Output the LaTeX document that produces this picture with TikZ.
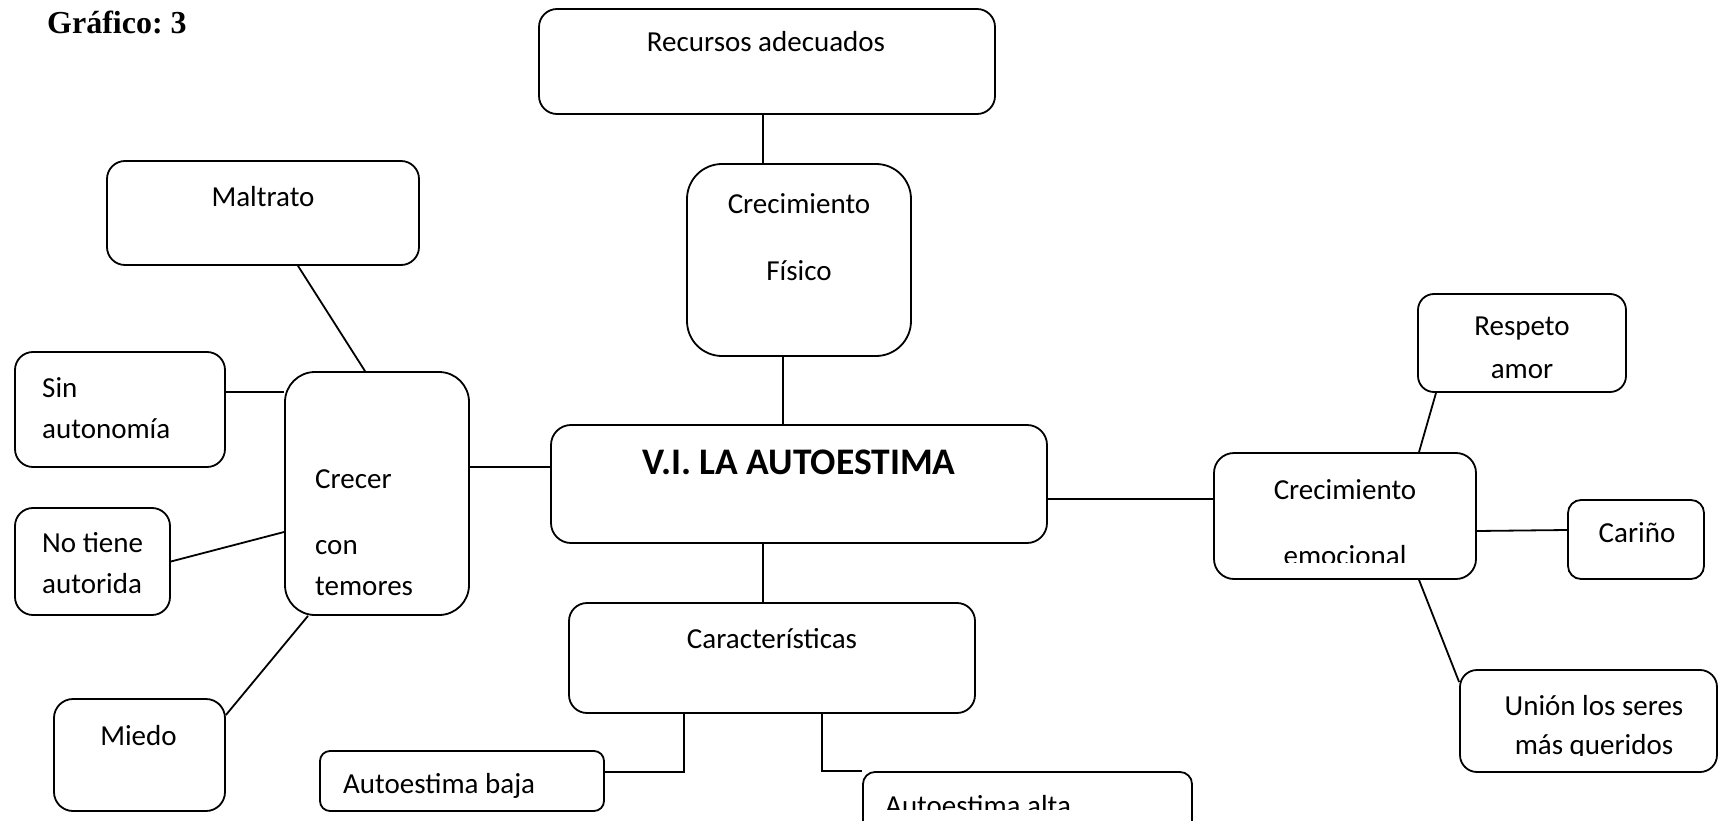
\documentclass[tikz,border=0pt]{standalone}
\usepackage{fontspec}
\setmainfont{Carlito}
\newfontfamily\titlefont{Liberation Serif}
\frenchspacing
\tikzstyle{box} = [draw, rectangle, line width=1.8pt, inner sep=0pt]
\tikzstyle{txt} = [inner sep=0pt, anchor=base, font=\fontsize{29}{41}\selectfont]
\tikzstyle{link} = [line width=1.8pt]

\begin{document}
\begin{tikzpicture}[x=1pt, y=-1pt]
    \clip (0,0) rectangle (1719,821);

    % Boxes.
    \foreach \name/\x/\y/\w/\h/\r in {recursos/767/61.5/456/105/18, fisico/799/260/224/192/35,
        autoestima/799/484/496/118/20, maltrato/263/213/312/104/18, crecer/377/493.5/184/243/30,
        sin autonomia/120/409.5/210/115/18, no tiene/92.5/561.5/155/107/18, miedo/139.5/755/171/112/19,
        caracteristicas/772/658/406/110/18, baja/462/781/284/60/10, alta/1027.5/806/329/68/12,
        emocional/1345/516/262/126/20, respeto/1522/343/208/98/16, carino/1636/539.5/136/79/13,
        union/1588.5/721/257/102/17} {%
        \node (\name) [box, rounded corners=\r pt, minimum width=\w pt, minimum height=\h pt] at (\x,\y) {};
    }

    % Texts (multi-line ones sit on their last line).
    \node (titulo) [anchor=base west, inner sep=0pt, font=\titlefont\bfseries\fontsize{32}{38}\selectfont] at (47,34) {Gráfico: 3};
    \node (recursos text) [txt] at (766,52) {Recursos adecuados};
    \node (fisico text) [txt, align=center] at (799,280) {Crecimiento\\[26pt]Físico};
    \node (autoestima text) [txt, font=\bfseries\fontsize{37.5}{44}\selectfont] at (799,474) {V.I. LA AUTOESTIMA};
    \node (maltrato text) [txt] at (263,207) {Maltrato};
    \node (crecer text) [txt, align=left, anchor=base west] at (315,595) {Crecer\\[25pt]con\\temores};
    \node (sin autonomia text) [txt, align=left, anchor=base west] at (42,438) {Sin\\autonomía};
    \node (no tiene text) [txt, align=left, anchor=base west] at (42,593) {No tiene\\autorida};
    \node (miedo text) [txt] at (138.5,745) {Miedo};
    \node (caracteristicas text) [txt] at (772,648) {Características};
    \node (baja text) [txt, anchor=base west] at (343,793) {Autoestima baja};
    \node (carino text) [txt] at (1637,542) {Cariño};
    \begin{scope}
        \clip (863,772) rectangle (1192,809);
        \node (alta text) [txt, anchor=base west] at (885,815) {Autoestima alta};
    \end{scope}
    \begin{scope}
        \clip (1214,453) rectangle (1476,562);
        \node (emocional text) [txt, align=center] at (1345,565) {Crecimiento\\[24.5pt]emocional};
    \end{scope}
    \begin{scope}
        \clip (1418,294) rectangle (1626,378);
        \node (respeto text) [txt, align=center] at (1522,378) {Respeto\\[2pt]amor};
    \end{scope}
    \begin{scope}
        \clip (1460,670) rectangle (1717,755);
        \node (union text) [txt, align=center] at (1594,754) {Unión los seres\\[-2pt]más queridos};
    \end{scope}

    % Connectors.
    \draw [link] ([xshift=-4pt]recursos.south) -- ([xshift=-4pt]recursos.south |- fisico.north);
    \draw [link] ([xshift=-16pt]fisico.south) -- ([xshift=-16pt]fisico.south |- autoestima.north);
    \draw [link] ([xshift=-36pt]autoestima.south) -- ([xshift=-36pt]autoestima.south |- caracteristicas.north);
    \draw [link] ([xshift=-88pt]caracteristicas.south) |- ([yshift=9pt]baja.east);
    \draw [link] ([xshift=50pt]caracteristicas.south) |- (alta.north west);
    \draw [link] ([yshift=17pt]autoestima.west) -- ([yshift=17pt]autoestima.west -| crecer.east);
    \draw [link] ([yshift=-15pt]autoestima.east) -- ([yshift=-15pt]autoestima.east -| emocional.west);
    \draw [link] ([xshift=35pt]maltrato.south) -- ([xshift=-12pt]crecer.north);
    \draw [link] ([yshift=17.5pt]sin autonomia.east) -- ([yshift=17.5pt]sin autonomia.east -| crecer.west);
    \draw [link] (no tiene.east) -- ([yshift=-38.5pt]crecer.west);
    \draw [link] ([yshift=40pt]miedo.east) -- ([xshift=-69pt]crecer.south);
    \draw [link] ([xshift=74pt]emocional.north) -- ([xshift=-86pt]respeto.south);
    \draw [link] ([yshift=-15pt]emocional.east) -- ([yshift=9.5pt]carino.west);
    \draw [link] ([xshift=74pt]emocional.south) -- ([yshift=39pt]union.west);
\end{tikzpicture}
\end{document}
